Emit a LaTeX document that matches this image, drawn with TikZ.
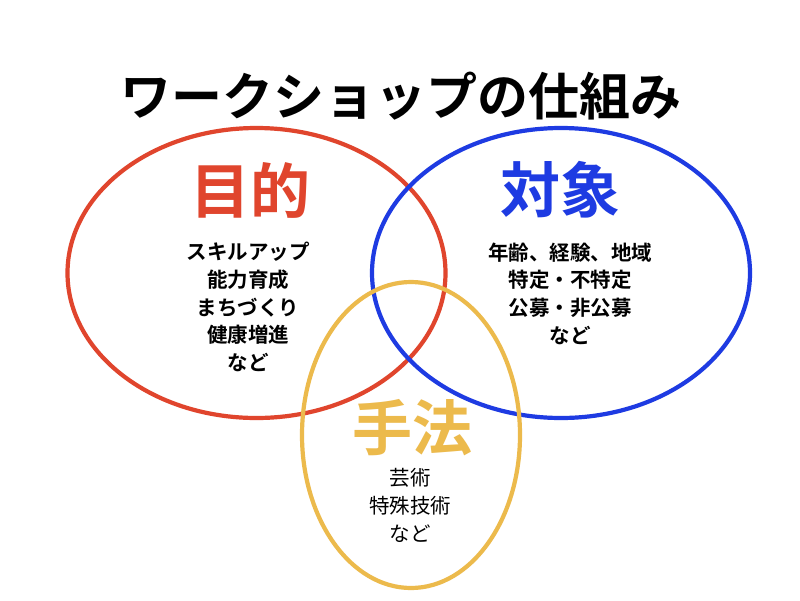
\documentclass[tikz,border=0pt]{standalone}
\usepackage{fontspec}
\setmainfont{Noto Sans CJK JP}[BoldFont={Noto Sans CJK JP Bold}]
\definecolor{cred}{HTML}{E0452D}
\definecolor{cblue}{HTML}{1E3BE2}
\definecolor{cyel}{HTML}{ECBA4C}
\tikzset{
  ring/.style={line width=4.2pt},
  head/.style={inner sep=0pt, font=\bfseries\fontsize{60}{62}\selectfont},
  items/.style={inner sep=0pt, align=center, font=\bfseries\fontsize{20.5}{27.6}\selectfont},
  itemsl/.style={inner sep=0pt, align=center, font=\fontsize{20.5}{28}\selectfont},
}
\begin{document}
\begin{tikzpicture}[x=1pt,y=-1pt]
\useasboundingbox (0,0) rectangle (800,600);
\fill[white] (0,0) rectangle (800,600);
\node[inner sep=0pt, font=\bfseries\fontsize{51}{55}\selectfont] (title) at (401,96) {ワークショップの仕組み};
\draw[ring, cred] (256.5,273) ellipse [x radius=189, y radius=145];
\draw[ring, cblue] (561,273) ellipse [x radius=189, y radius=145];
\draw[ring, cyel] (411,435) ellipse [x radius=109, y radius=153];
\node[head, text=cred] (purpose) at (250,190) {目的};
\node[head, text=cblue] (target) at (560,190) {対象};
\node[head, text=cyel] (method) at (412,428) {手法};
\node[items] (plist) at (248,307) {スキルアップ\\能力育成\\まちづくり\\健康増進\\など};
\node[items] (tlist) at (570,293.5) {年齢、経験、地域\\特定・不特定\\公募・非公募\\など};
\node[itemsl] (mlist) at (410,505) {芸術\\特殊技術\\など};
\end{tikzpicture}
\end{document}
